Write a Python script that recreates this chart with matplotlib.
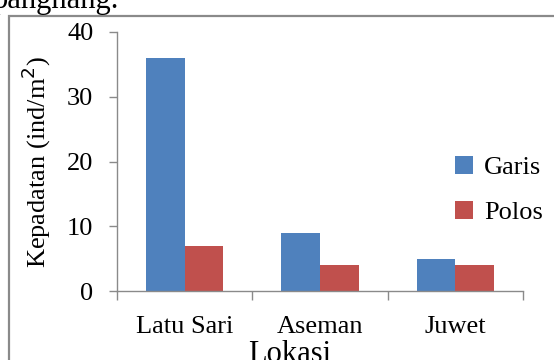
import matplotlib
matplotlib.use("Agg")
import matplotlib.pyplot as plt
from matplotlib.patches import Rectangle
import numpy as np

# Data
locations = ["Latu Sari", "Aseman", "Juwet"]
garis = [36, 9, 5]
polos = [7, 4, 4]
series_names = ["Garis", "Polos"]
y_ticks = [0, 10, 20, 30, 40]

W, H = 554, 360
plt.rcParams["font.family"] = ["Liberation Serif", "DejaVu Serif"]

fig = plt.figure(figsize=(W / 100, H / 100), dpi=100)
fig.patch.set_facecolor("white")

def fx(px):
    return px / W

def fy(py):
    return 1 - py / H

# Frame around the chart area
frame = Rectangle((fx(9), fy(380)), fx(600), fy(16) - fy(380),
                  transform=fig.transFigure, fill=False,
                  edgecolor="#8a8a8a", linewidth=1.6, clip_on=False)
fig.patches.append(frame)

# Caption text running above the frame
fig.text(fx(-7), fy(8), "panghang.", fontsize=22, ha="left", va="baseline",
         color="black")

ax = fig.add_axes([fx(117), fy(291), fx(523) - fx(117), fy(32) - fy(291)])

x = np.arange(len(locations))
bw = 0.285
ax.bar(x - bw / 2, garis, width=bw, color="#4F81BD", label=series_names[0])
ax.bar(x + bw / 2, polos, width=bw, color="#C0504D", label=series_names[1])

ax.set_xlim(-0.5, len(locations) - 0.5)
ax.set_ylim(0, 40)
ax.set_yticks(y_ticks)
ax.set_xticks(x)
ax.set_xticklabels(locations)
ax.set_xticks(np.arange(-0.5, len(locations)), minor=True)

spine_c = "#8a8a8a"
for s in ["top", "right"]:
    ax.spines[s].set_visible(False)
for s in ["left", "bottom"]:
    ax.spines[s].set_color(spine_c)
    ax.spines[s].set_linewidth(1.0)

ax.tick_params(axis="y", direction="out", length=6, width=1.0, color=spine_c,
               pad=11, labelsize=19)
ax.tick_params(axis="x", which="major", length=0, pad=18, labelsize=19)
ax.tick_params(axis="x", which="minor", direction="out", length=6.5,
               width=1.0, color=spine_c)

ax.set_ylabel("Kepadatan (ind/m$^2$)", fontsize=19, labelpad=10)

fig.text(fx(290), fy(340), "Lokasi", fontsize=22, ha="center", va="top")

leg = ax.legend(loc="center left", bbox_to_anchor=(fx(455), fy(190)),
                bbox_transform=fig.transFigure, frameon=False, fontsize=19,
                handlelength=0.7, handleheight=0.7, handletextpad=0.4,
                labelspacing=0.8, borderpad=0, borderaxespad=0)

fig.savefig("out.png", dpi=100, facecolor="white")
